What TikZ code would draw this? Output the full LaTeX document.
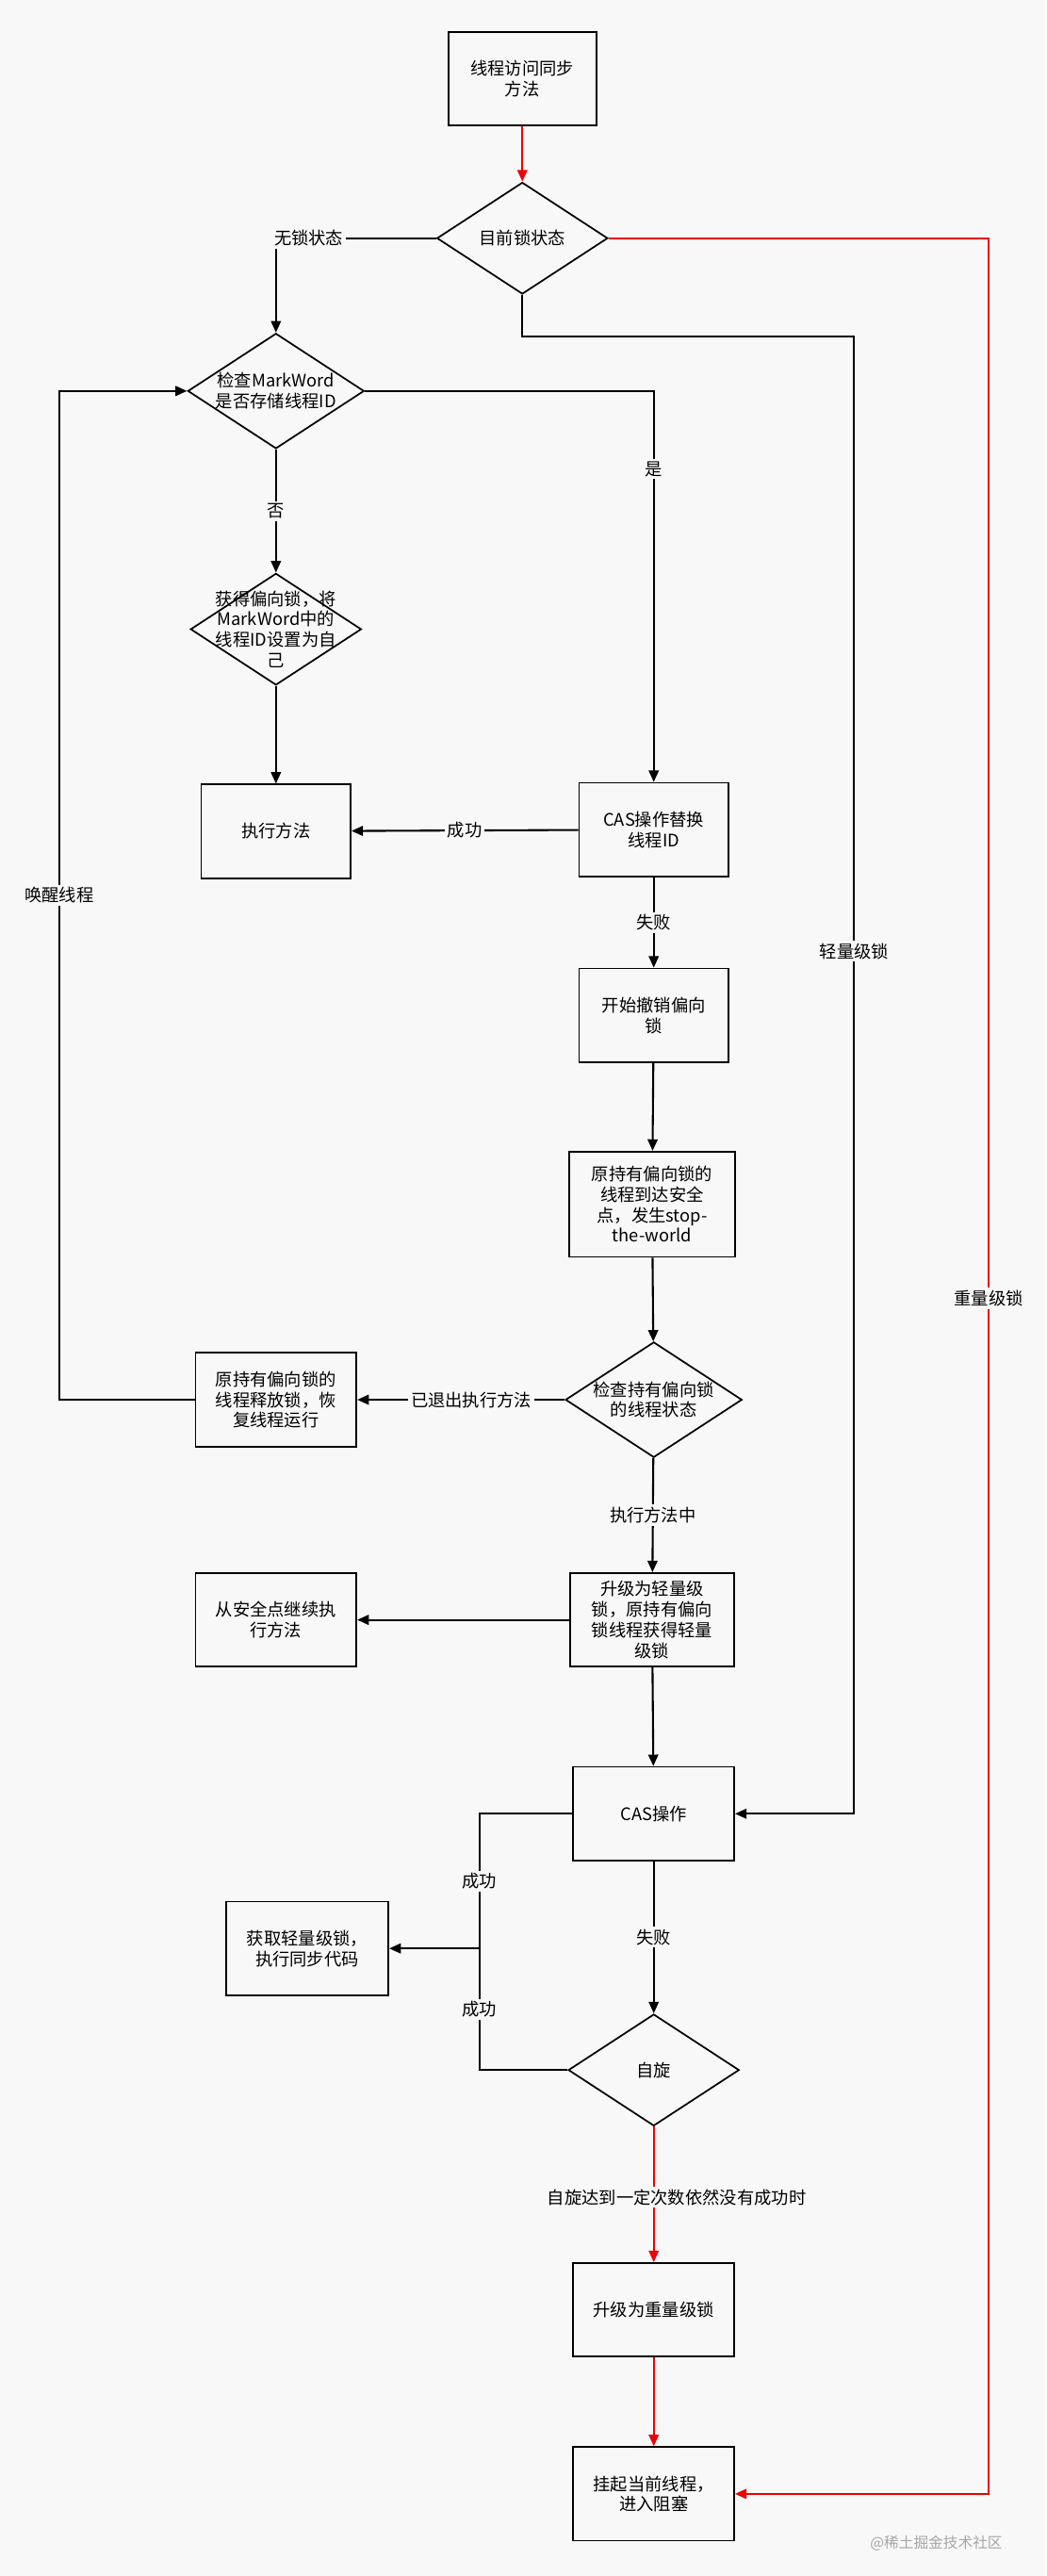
\documentclass[tikz,border=0pt]{standalone}
\usepackage{fontspec}
\setmainfont{Noto Sans CJK SC}
\usetikzlibrary{shapes.geometric,arrows.meta}
\definecolor{bg}{HTML}{F8F8F8}
\definecolor{rd}{HTML}{EE0000}
\begin{document}
\begin{tikzpicture}[x=1pt,y=-1pt,
  every node/.style={font=\fontsize{10.5}{12.5}\selectfont, align=center},
  box/.style={draw, line width=1pt, fill=bg, minimum width=98pt, minimum height=57pt},
  dia/.style={draw, line width=1pt, fill=bg, diamond, aspect=1.53, minimum width=104pt, minimum height=68pt, inner sep=0pt},
  ln/.style={line width=1.2pt, -{Triangle[length=7pt,width=6pt]}},
  rl/.style={ln, draw=rd},
  lbl/.style={fill=bg, inner sep=1.5pt}]
\fill[bg] (0,0) rectangle (637,1568);
\node[box, minimum width=90pt] (A) at (318,48) {线程访问同步\\方法};
\node[dia] (B) at (318,145) {目前锁状态};
\node[dia] (C) at (168,238) {检查MarkWord\\是否存储线程ID};
\node[dia] (D) at (168,383) {};
\node (Dt) at (168,383) {获得偏向锁，将\\MarkWord中的\\线程ID设置为自\\己};
\node[box, minimum width=91pt] (E) at (168,506) {执行方法};
\node[box, minimum width=91pt] (F) at (398,505) {CAS操作替换\\线程ID};
\node[box, minimum width=91pt] (G) at (398,618) {开始撤销偏向\\锁};
\node[box, minimum width=101pt, minimum height=64pt] (H) at (397,733) {原持有偏向锁的\\线程到达安全\\点，发生stop-\\the-world};
\node[dia] (I) at (398,852) {检查持有偏向锁\\的线程状态};
\node[box] (J) at (168,852) {原持有偏向锁的\\线程释放锁，恢\\复线程运行};
\node[box, minimum width=100pt] (K) at (397,986) {升级为轻量级\\锁，原持有偏向\\锁线程获得轻量\\级锁};
\node[box] (L) at (168,986) {从安全点继续执\\行方法};
\node[box] (M) at (398,1104) {CAS操作};
\node[dia] (N) at (398,1260) {自旋};
\node[box, minimum width=99pt] (O) at (187,1186) {获取轻量级锁，\\执行同步代码};
\node[box] (P) at (398,1406) {升级为重量级锁};
\node[box] (Q) at (398,1518) {挂起当前线程，\\进入阻塞};
\coordinate (j1) at (292,1186);

\draw[rl] (A) -- (B);
\draw[ln] (B.west) -| (C.north);
\node[lbl] at (188,145) {无锁状态};
\draw[ln] (C) -- node[lbl]{否} (D);
\draw[ln] (D) -- (E);
\draw[ln] (C.east) -| node[lbl, pos=0.6]{是} (F.north);
\draw[ln] (F) -- node[lbl]{成功} (E);
\draw[ln] (F) -- node[lbl]{失败} (G);
\draw[ln] (G) -- (H);
\draw[ln] (H) -- (I);
\draw[ln] (I) -- node[lbl, pos=0.45]{已退出执行方法} (J);
\draw[ln] (J.west) -- (36,852) -- node[lbl]{唤醒线程} (36,238) -- (C.west);
\draw[ln] (I) -- node[lbl]{执行方法中} (K);
\draw[ln] (K) -- (L);
\draw[ln] (K) -- (M);
\draw[ln] (B.south) -- (318,205) -- (520,205) -- node[lbl, pos=0.416]{轻量级锁} (520,1104) -- (M.east);
\draw[ln] (M) -- node[lbl]{失败} (N);
\draw[line width=1.2pt] (M.west) -- (292,1104) -- node[lbl]{成功} (j1);
\draw[line width=1.2pt] (N.west) -- (292,1260) -- node[lbl]{成功} (j1);
\draw[ln] (j1) -- (O);
\draw[rl] (N) -- node[lbl, pos=0.52, xshift=14pt]{自旋达到一定次数依然没有成功时} (P);
\draw[rl] (P) -- (Q);
\draw[rl] (B.east) -- (602,145) -- node[lbl, pos=0.47]{重量级锁} (602,1518) -- (Q.east);
\node[text=gray!70, font=\fontsize{9}{11}\selectfont] at (570,1548) {@稀土掘金技术社区};
\end{tikzpicture}
\end{document}
